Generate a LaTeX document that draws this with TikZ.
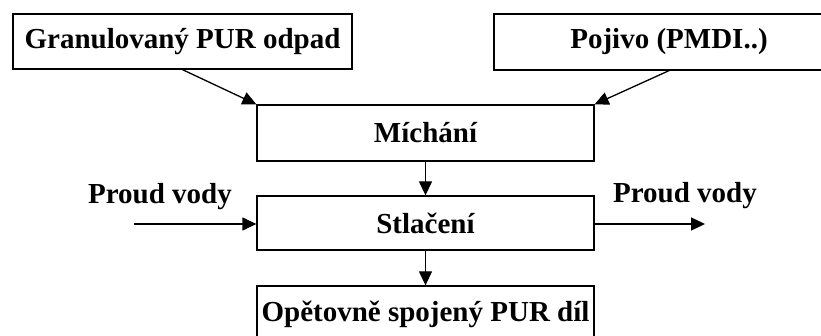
\documentclass[tikz,border=0pt]{standalone}
\usepackage{fontspec}
\setmainfont{Liberation Serif}
\usetikzlibrary{arrows.meta}
\begin{document}
\begin{tikzpicture}[
        x=1pt, y=-1pt,
        font=\fontsize{29}{34}\selectfont\bfseries,
        stage/.style={draw, line width=1.3pt, inner sep=0pt, minimum height=55pt, align=center},
        flow/.style={-{Triangle[length=14pt, width=13pt]}, line width=1.3pt}
    ]
        \clip (0,0) rectangle (821,336);

        \node[stage, minimum width=339pt] (granulate) at (182.5,41.5)
            {Granulovaný PUR odpad};
        \node[stage, minimum width=350pt, minimum height=56pt] (binder) at (669,42)
            {Pojivo (PMDI..)};
        \node[stage, minimum width=337pt, minimum height=56pt] (mixing) at (425.5,133)
            {Míchání};
        \node[stage, minimum width=337pt, minimum height=54pt] (pressing) at (425.5,223)
            {Stlačení};
        \node[stage, minimum width=337pt, minimum height=56pt] (part) at (425.5,314)
            {Opětovně spojený PUR díl};

        \node (waterIn) at (160,197) {Proud vody};
        \node (waterOut) at (685,196) {Proud vody};
        \coordinate (waterInStart) at (134,224);
        \coordinate (waterOutEnd) at (705,224);

        \draw[flow] (granulate.south) -- (mixing.north west);
        \draw[flow] (binder.south) -- (mixing.north east);
        \draw[flow] (mixing) -- (pressing);
        \draw[flow] (pressing) -- (part);
        \draw[flow] (waterInStart) -- (pressing.west |- waterInStart);
        \draw[flow] (pressing.east |- waterOutEnd) -- (waterOutEnd);
    \end{tikzpicture}
\end{document}
